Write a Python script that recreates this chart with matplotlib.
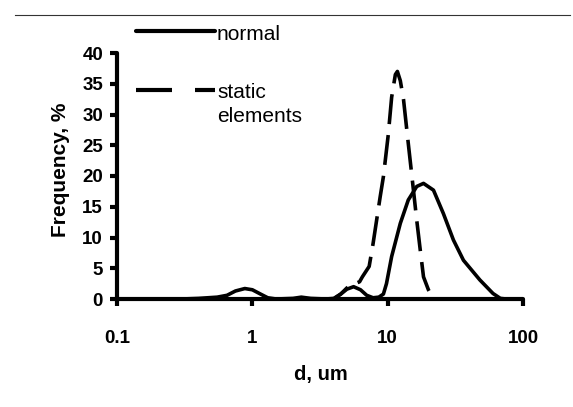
import matplotlib
matplotlib.use("Agg")
import matplotlib.pyplot as plt
from matplotlib.lines import Line2D

plt.rcParams['font.family'] = ['Liberation Sans', 'DejaVu Sans']
plt.rcParams['lines.scale_dashes'] = False

# Data
normal_d = [0.1, 0.3, 0.4, 0.55, 0.65, 0.75, 0.88, 1.0, 1.15, 1.3, 1.5, 2.0, 2.3, 2.7, 3.5,
            4.0, 4.5, 5.0, 5.6, 6.3, 7.0, 7.8, 8.6, 9.3, 9.8, 10.7, 12.4, 14.2, 16.4, 18.4,
            21.8, 25.8, 30.6, 36.3, 48.0, 60.0, 68.0, 75.0]
normal_f = [0.0, 0.0, 0.1, 0.3, 0.6, 1.3, 1.7, 1.5, 0.8, 0.2, 0.0, 0.1, 0.3, 0.1, 0.0,
            0.1, 0.8, 1.6, 2.0, 1.5, 0.6, 0.2, 0.3, 0.8, 2.5, 6.9, 12.3, 16.1, 18.3, 18.8,
            17.7, 13.9, 9.6, 6.3, 3.1, 0.9, 0.1, 0.0]

static_d = [0.1, 1.0, 4.0, 4.5, 5.0, 5.6, 6.2, 6.5, 7.3, 7.8, 8.8, 9.3, 10.1, 10.7, 11.4,
            11.8, 12.4, 13.1, 14.2, 15.1, 16.4, 17.4, 18.4, 20.0, 21.8, 100.0]
static_f = [0.0, 0.0, 0.0, 0.8, 1.8, 2.4, 2.8, 3.6, 5.3, 9.0, 16.6, 19.9, 26.7, 32.8, 36.5,
            37.0, 35.5, 32.4, 25.3, 20.0, 12.8, 8.0, 3.6, 1.5, 0.0, 0.0]

series_labels = ['normal', 'static', 'elements']
x_ticks = [0.1, 1, 10, 100]
x_ticklabels = ['0.1', '1', '10', '100']
y_ticks = [0, 5, 10, 15, 20, 25, 30, 35, 40]

W, H = 573, 407
fig = plt.figure(figsize=(W / 100, H / 100), dpi=100)
ax = fig.add_axes([117 / W, 1 - 299 / H, (523 - 117) / W, (299 - 53) / H])

px = 72 / 100.0
lw = 2.6
ax.plot(static_d, static_f, color='black', lw=lw, dashes=(30 * px, 11 * px),
        solid_capstyle='butt', dash_capstyle='butt', zorder=3)
ax.plot(normal_d, normal_f, color='black', lw=lw, zorder=4)

ax.set_xscale('log')
ax.set_xlim(0.1, 100)
ax.set_ylim(0, 40)
ax.set_xticks(x_ticks)
ax.set_xticklabels(x_ticklabels)
ax.minorticks_off()
ax.set_yticks(y_ticks)

for s in ['top', 'right']:
    ax.spines[s].set_visible(False)
for s in ['left', 'bottom']:
    ax.spines[s].set_linewidth(3.0)
    ax.spines[s].set_capstyle('round')
ax.patch.set_alpha(0)

ax.tick_params(axis='y', direction='out', length=5, width=3, pad=5, labelsize=13.5)
ax.tick_params(axis='x', direction='out', length=5, width=3, pad=17, labelsize=13.5)
for lab in ax.get_xticklabels() + ax.get_yticklabels():
    lab.set_fontweight('bold')

fig.text(60 / W, 1 - 170 / H, 'Frequency, %', rotation=90, ha='center', va='center',
         fontsize=15, fontweight='bold')
fig.text(321 / W, 1 - 380 / H, 'd, um', ha='center', va='baseline',
         fontsize=14.5, fontweight='bold')

# legend (drawn as figure decorations)
l1 = Line2D([136 / W, 215 / W], [1 - 31 / H, 1 - 31 / H], transform=fig.transFigure,
            color='black', lw=3.0, solid_capstyle='round')
l2 = Line2D([136 / W, 215 / W], [1 - 90 / H, 1 - 90 / H], transform=fig.transFigure,
            color='black', lw=3.0, dashes=(36 * px, 23 * px), dash_capstyle='butt')
fig.add_artist(l1)
fig.add_artist(l2)
fig.text(217 / W, 1 - 35 / H, series_labels[0], ha='left', va='center', fontsize=15)
fig.text(217 / W, 1 - 92 / H, series_labels[1], ha='left', va='center', fontsize=15)
fig.text(217 / W, 1 - 117 / H, series_labels[2], ha='left', va='center', fontsize=15)

# scan border line at top
fig.add_artist(Line2D([15 / W, 570 / W], [1 - 15 / H, 1 - 15 / H], transform=fig.transFigure,
                      color='#333333', lw=0.8))

fig.savefig('out.png', dpi=100)
